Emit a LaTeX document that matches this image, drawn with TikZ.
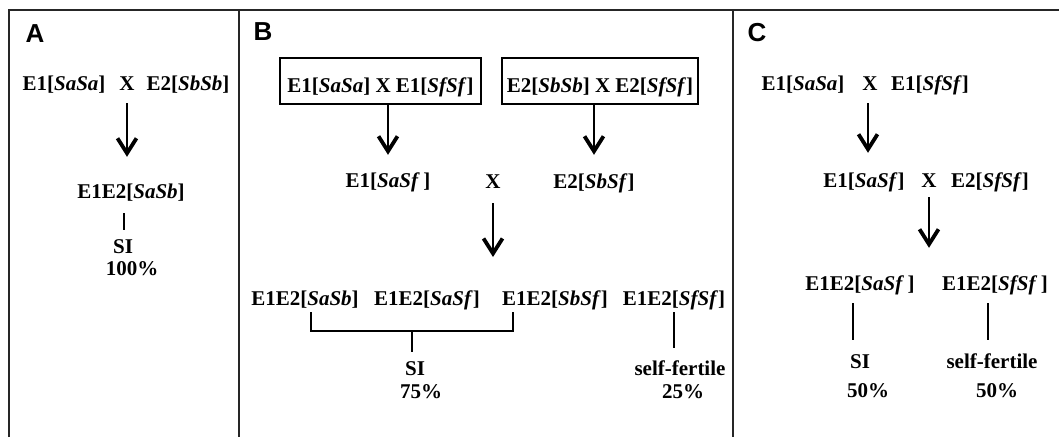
\documentclass[tikz,border=0pt]{standalone}
\usepackage{fontspec}
\setmainfont{Liberation Serif}
\setsansfont{Liberation Sans}
\usetikzlibrary{arrows.meta}
% genotype symbols are set in italics
\newcommand{\gn}[1]{\textit{#1}}
\begin{document}
\begin{tikzpicture}[x=1pt,y=-1pt,
  txt/.style={font=\fontsize{21}{25}\selectfont\bfseries, inner sep=0pt,
    text height=14pt, text depth=4pt},
  panel/.style={font=\fontsize{26}{30}\selectfont\sffamily\bfseries, inner sep=0pt},
  frame/.style={line width=2.4pt, draw=black!85},
  crossbox/.style={txt, draw, line width=1.8pt, minimum width=#1, minimum height=46pt,
    text height=22pt, text depth=0pt},
  cross arrow/.style={line width=2pt,
    -{Straight Barb[length=15pt,width=19pt,line width=3.8pt]}},
  link/.style={line width=1.5pt}]
\useasboundingbox (0,0) rectangle (1059,437);

% panel frame
\draw[frame] (9,437) -- (9,10) -- (1059,10);
\draw[frame] (239,10) -- (239,437);
\draw[frame] (733,10) -- (733,437);

% ---------- panel A ----------
\node[panel] (labA) at (35,34) {A};
\node[txt] (a1l) at (64,85) {E1[\gn{SaSa}]};
\node[txt] (a1x) at (127,85) {X};
\node[txt] (a1r) at (188,85) {E2[\gn{SbSb}]};
\node[txt] (a2) at (131,193) {E1E2[\gn{SaSb}]};
\node[txt] (a3) at (123,248) {SI};
\node[txt] (a4) at (132,270) {100\%};
\draw[cross arrow, shorten <=9pt, shorten >=27pt] (a1x.south) -- (a1x.south |- a2.north);
\draw[link, shorten <=11pt, shorten >=9pt] ([xshift=1pt]a3.north |- a2.south) -- ([xshift=1pt]a3.north);

% ---------- panel B ----------
\node[panel] (labB) at (263,32) {B};
\node[crossbox=201pt] (b1) at (380.5,81) {E1[\gn{SaSa}] X E1[\gn{SfSf}]};
\node[crossbox=196pt] (b1r) at (600,81) {E2[\gn{SbSb}] X E2[\gn{SfSf}]};
\node[txt] (b2l) at (388,182) {E1[\gn{SaSf}\,]};
\node[txt] (b2x) at (493,183) {X};
\node[txt] (b2r) at (594,183) {E2[\gn{SbSf}]};
\draw[cross arrow, shorten >=18pt] (b1.south -| b2l) -- (b2l.north);
\draw[cross arrow, shorten >=19pt] (b1r.south -| b2r) -- (b2r.north);
\coordinate (b3in) at (493,257);
\draw[cross arrow, shorten <=11pt] (b2x.south) -- (b3in);

\node[txt] (b3a) at (305,300) {E1E2[\gn{SaSb}]};
\node[txt] (b3b) at (427,300) {E1E2[\gn{SaSf}]};
\node[txt] (b3c) at (555,300) {E1E2[\gn{SbSf}]};
\node[txt] (b3d) at (674,300) {E1E2[\gn{SfSf}]};
\node[txt] (b4a) at (415,370) {SI};
\node[txt] (b4b) at (421,393) {75\%};
\node[txt] (b4c) at (680,370) {self-fertile};
\node[txt] (b4d) at (683,393) {25\%};

% bracket joining the three SI genotypes
\coordinate (brL) at (311,331);
\coordinate (brR) at (513,331);
\coordinate (brM) at (412,331);
\draw[link, shorten <=3pt, shorten >=3pt]
  (brL |- b3a.south) -- (brL) -- (brR) -- (brR |- b3c.south);
\draw[link, shorten >=9pt] (brM) -- (brM |- b4a.north);
\draw[link, shorten <=3pt, shorten >=13pt] (b3d.south) -- (b3d.south |- b4c.north);

% ---------- panel C ----------
\node[panel] (labC) at (757,33) {C};
\node[txt] (c1l) at (803,85) {E1[\gn{SaSa}]};
\node[txt] (c1x) at (870,85) {X};
\node[txt] (c1r) at (930,85) {E1[\gn{SfSf}]};
\node[txt] (c2l) at (864,182) {E1[\gn{SaSf}]};
\node[txt] (c2x) at (929,182) {X};
\node[txt] (c2r) at (990,182) {E2[\gn{SfSf}]};
\node[txt] (c3a) at (860,285) {E1E2[\gn{SaSf}\,]};
\node[txt] (c3b) at (995,285) {E1E2[\gn{SfSf}\,]};
\node[txt] (c4a) at (860,363) {SI};
\node[txt] (c4b) at (868,392) {50\%};
\node[txt] (c4c) at (992,363) {self-fertile};
\node[txt] (c4d) at (997,392) {50\%};

\draw[cross arrow, shorten <=9pt, shorten >=20pt] ([xshift=-2pt]c1x.south) -- ([xshift=-2pt]c1x.south |- c2l.north);
\draw[cross arrow, shorten <=6pt, shorten >=28pt] (c2x.south) -- (c2x.south |- c3a.north);
\draw[link, shorten <=9pt, shorten >=14pt] ([xshift=-7pt]c3a.south) -- ([xshift=-7pt]c3a.south |- c4a.north);
\draw[link, shorten <=9pt, shorten >=14pt] ([xshift=-7pt]c3b.south) -- ([xshift=-7pt]c3b.south |- c4c.north);
\end{tikzpicture}
\end{document}
